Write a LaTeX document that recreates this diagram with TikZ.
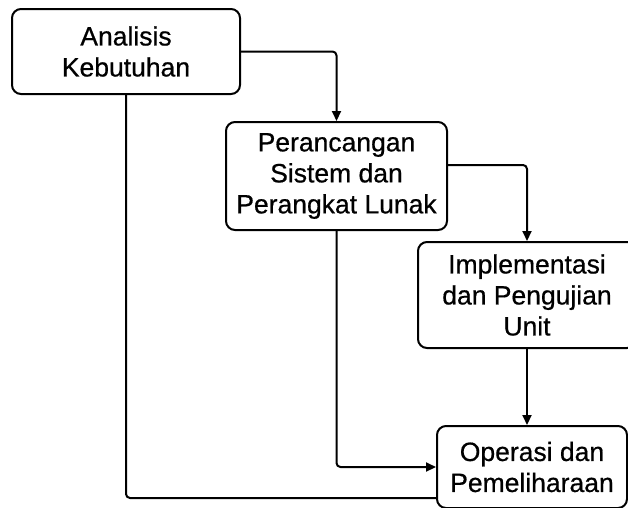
\documentclass[tikz,border=0pt]{standalone}
\usepackage{fontspec}
\setmainfont{Liberation Sans}[FakeBold=0.6]
\usetikzlibrary{arrows.meta}

\begin{document}
\begin{tikzpicture}[x=1pt, y=-1pt]
        \tikzset{BoxStyle/.style={draw, line width=2pt, rounded corners=9pt,
            align=center, inner sep=0pt,
            font=\fontsize{26.5}{31}\selectfont}}
        \tikzset{EdgeStyle/.style={line width=2pt, rounded corners=4pt,
            -{Triangle[length=10pt, width=9pt]}}}

        \useasboundingbox (0,0) rectangle (628,507);

        \node[BoxStyle, minimum width=228pt, minimum height=85pt]
          (analisis) at (126,51.5) {Analisis\\Kebutuhan};
        \node[BoxStyle, minimum width=221pt, minimum height=108pt]
          (rancang) at (336.5,176) {Perancangan\\Sistem dan\\Perangkat Lunak};
        \node[BoxStyle, minimum width=218pt, minimum height=106pt]
          (implementasi) at (527,295) {Implementasi\\dan Pengujian\\Unit};
        \node[BoxStyle, minimum width=190pt, minimum height=82pt]
          (operasi) at (532,467) {Operasi dan\\Pemeliharaan};

        \draw[EdgeStyle] (analisis.east) -| (rancang.north);
        \draw[EdgeStyle] ([yshift=11pt]rancang.east) -| (implementasi.north);
        \draw[EdgeStyle] (implementasi.south) -- (implementasi.south |- operasi.north);
        \draw[EdgeStyle] (rancang.south) |- (operasi.west);
        % the lowest line ends on the box with no tip
        \draw[EdgeStyle, -] (analisis.south) |- ([yshift=-31pt]operasi.west);
      \end{tikzpicture}
\end{document}
